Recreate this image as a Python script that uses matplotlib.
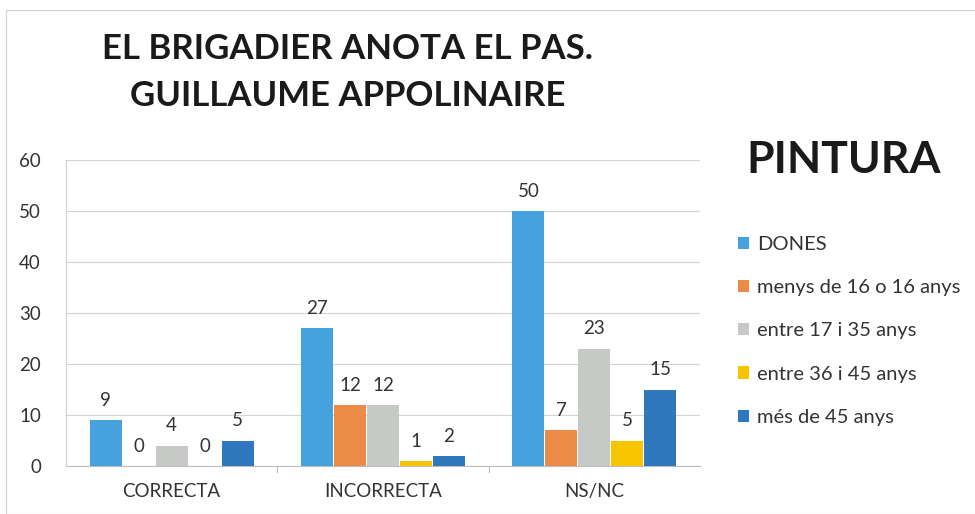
import matplotlib.pyplot as plt
import numpy as np
from matplotlib.patches import Rectangle

categories = ["CORRECTA", "INCORRECTA", "NS/NC"]
series = ["DONES", "menys de 16 o 16 anys", "entre 17 i 35 anys",
          "entre 36 i 45 anys", "més de 45 anys"]
dones = [9, 27, 50]
menys16 = [0, 12, 7]
entre17_35 = [4, 12, 23]
entre36_45 = [0, 1, 5]
mes45 = [5, 2, 15]
colors = ["#45a2dc", "#ec8a48", "#c6c9c6", "#f8c400", "#2f78bd"]

values = [dones, menys16, entre17_35, entre36_45, mes45]

fig = plt.figure(figsize=(9.75, 5.14), dpi=100)
font = "Lato"

# chart border
fig.patches.append(Rectangle((6 / 975, 0.0), 1.0, 1 - 10 / 514, transform=fig.transFigure,
                             fill=False, edgecolor="#d0d0d0", linewidth=0.8))

ax = fig.add_axes([66 / 975, 1 - 466 / 514, 634 / 975, 306 / 514])

x = np.arange(len(categories))
width = 0.156
for i, (name, vals, col) in enumerate(zip(series, values, colors)):
    pos = x + (i - 2) * width
    bars = ax.bar(pos, vals, width * 0.97, color=col, label=name, zorder=3)
    for b, v in zip(bars, vals):
        ax.text(b.get_x() + b.get_width() / 2, v + 2.2, str(v), ha="center", va="bottom",
                fontsize=13.5, family=font, color="#333333")

ax.set_xlim(-0.5, 2.5)
ax.set_ylim(0, 60)
ax.set_yticks(range(0, 61, 10))
ax.set_xticks(x)
ax.set_xticklabels(categories)
ax.grid(axis="y", color="#d4d4d4", linewidth=0.8, zorder=0)
for s in ["top", "right"]:
    ax.spines[s].set_visible(False)
ax.spines["left"].set_color("#cfcfcf")
ax.spines["bottom"].set_color("#bdbdbd")
ax.tick_params(axis="y", length=0, pad=18, labelsize=13.5, labelcolor="#333333")
ax.tick_params(axis="x", length=0, pad=12, labelsize=13.5, labelcolor="#333333")
for lbl in ax.get_xticklabels() + ax.get_yticklabels():
    lbl.set_family(font)
# small separators between categories
for b in [0.5, 1.5]:
    ax.plot([b, b], [0, -1.2], color="#bdbdbd", linewidth=0.8, clip_on=False)

fig.text(348 / 975, 1 - 49 / 514, "EL BRIGADIER ANOTA EL PAS.", ha="center", va="center",
         fontsize=25, fontweight="bold", family=font, color="#1a1a1a")
fig.text(348 / 975, 1 - 96 / 514, "GUILLAUME APPOLINAIRE", ha="center", va="center",
         fontsize=25, fontweight="bold", family=font, color="#1a1a1a")
fig.text(844 / 975, 1 - 160 / 514, "PINTURA", ha="center", va="center",
         fontsize=32, fontweight="bold", family=font, color="#1a1a1a")

leg = ax.legend(loc="upper left", bbox_to_anchor=(730 / 975, 1 - 228 / 514),
                bbox_transform=fig.transFigure, frameon=False, prop={"family": font, "size": 14.5},
                handlelength=0.55, handleheight=0.55, handletextpad=0.4, labelspacing=1.3,
                borderaxespad=0)
for t in leg.get_texts():
    t.set_color("#333333")

fig.savefig("out.png", dpi=100)
